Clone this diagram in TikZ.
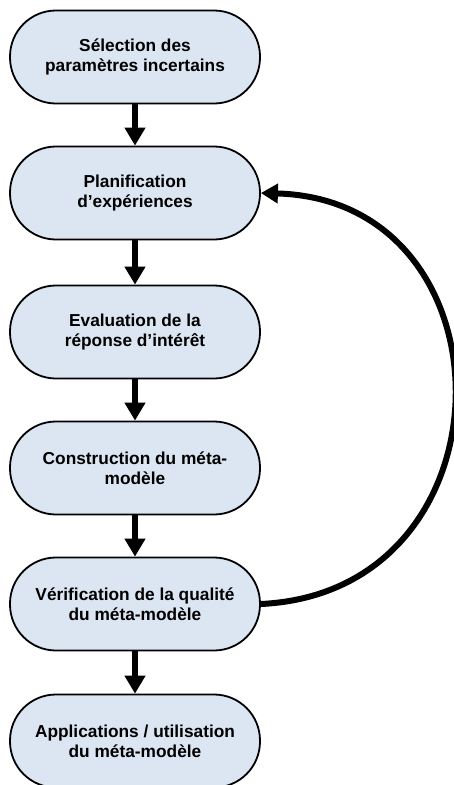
\documentclass[tikz,border=0pt]{standalone}
\usepackage{fontspec}
\setmainfont{Liberation Sans}
\usetikzlibrary{arrows.meta}
\definecolor{boxfill}{HTML}{DCE6F2}
\begin{document}
\begin{tikzpicture}[x=1pt,y=-1pt,
  stepbox/.style={draw=black, line width=1.8pt, fill=boxfill, rounded corners=46pt,
    minimum width=250pt, minimum height=93pt, align=center, inner sep=0pt,
    font=\fontsize{17.3}{20}\selectfont\bfseries},
  flow/.style={line width=6.5pt, -{Triangle[width=20pt,length=18pt]}},
  back/.style={line width=6pt, -{Triangle[width=19pt,length=17pt]}}]
\useasboundingbox (0,0) rectangle (453,785);
\node[stepbox] (n1) at (135,57) {Sélection des\\paramètres incertains};
\node[stepbox] (n2) at (135,193) {Planification\\d’expériences};
\node[stepbox] (n3) at (135,332) {Evaluation de la\\réponse d’intérêt};
\node[stepbox] (n4) at (135,468) {Construction du méta-\\modèle};
\node[stepbox] (n5) at (135,604) {Vérification de la qualité\\du méta-modèle};
\node[stepbox] (n6) at (135,741) {Applications / utilisation\\du méta-modèle};
\draw[flow] (n1.south) -- (n2.north);
\draw[flow] (n2.south) -- (n3.north);
\draw[flow] (n3.south) -- (n4.north);
\draw[flow] (n4.south) -- (n5.north);
\draw[flow] (n5.south) -- (n6.north);
\draw[back] (n5.east) .. controls (518,592) and (518,200) .. (n2.east);
\end{tikzpicture}
\end{document}
